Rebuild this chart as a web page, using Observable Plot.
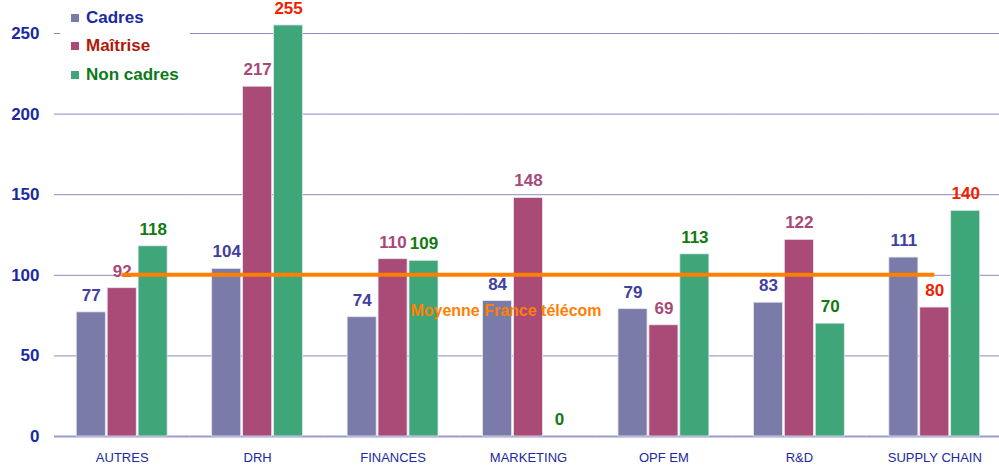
<!DOCTYPE html>
<html>
<head>
<meta charset="utf-8">
<script src="https://cdn.jsdelivr.net/npm/d3@7"></script>
<script src="https://cdn.jsdelivr.net/npm/@observablehq/plot@0.6"></script>
<style>
  html, body { margin: 0; padding: 0; background: #fff; }
  #wrap { position: relative; width: 999px; height: 468px; overflow: hidden; font-family: "Liberation Sans", Arial, sans-serif; }
  #legend { position: absolute; left: 60px; top: 4px; width: 130px; height: 88px; background: #fff; }
  .item { height: 28.3px; line-height: 28.3px; font-weight: bold; font-size: 17px; display: flex; align-items: center; padding-left: 11px; }
  .sw { width: 8px; height: 8px; margin-right: 7px; display: inline-block; }
</style>
</head>
<body>
<div id="wrap"></div>
<script>
const categories = ["AUTRES", "DRH", "FINANCES", "MARKETING", "OPF EM", "R&D", "SUPPLY CHAIN"];
const series = ["Cadres", "Maîtrise", "Non cadres"];
const cadres    = [77, 104, 74, 84, 79, 83, 111];
const maitrise  = [92, 217, 110, 148, 69, 122, 80];
const nonCadres = [118, 255, 109, 0, 113, 70, 140];
const yTicks = [0, 50, 100, 150, 200, 250];
const average = 100;
const averageLabel = "Moyenne France télécom";
const highlighted = [["DRH", "Non cadres"], ["SUPPLY CHAIN", "Maîtrise"], ["SUPPLY CHAIN", "Non cadres"]];

const barColors = ["#7b7ba9", "#a94a77", "#3fa67a"];
const labelColors = ["#4040a0", "#a84878", "#127a12"];
const legendColors = ["#1a2aa0", "#b01a0a", "#0a7a1a"];
const highlightColor = "#f02000";
const axisColor = "#1a2aa0";

const valuesBySeries = [cadres, maitrise, nonCadres];
const data = [];
categories.forEach((c, i) => {
  series.forEach((s, j) => {
    data.push({cat: c, series: s, value: valuesBySeries[j][i]});
  });
});
const isHi = d => highlighted.some(([c, s]) => c === d.cat && s === d.series);

const plot = Plot.plot({
  width: 999,
  height: 468,
  marginLeft: 54,
  marginRight: -3,
  marginTop: 33,
  marginBottom: 32,
  style: {fontFamily: "'Liberation Sans', Arial, sans-serif", background: "#fff", overflow: "hidden"},
  fx: {domain: categories, padding: 0, label: null, round: false},
  x: {domain: series, paddingInner: 0.06, paddingOuter: 0.72, axis: null, round: false},
  y: {domain: [0, 250], label: null},
  color: {domain: series, range: barColors},
  marks: [
    Plot.gridY(yTicks.filter(d => d > 0), {stroke: "#8a8abd", strokeOpacity: 1, strokeWidth: 1}),
    Plot.ruleY([0], {stroke: "#9a9acc", strokeWidth: 2}),
    Plot.barY(data, {fx: "cat", x: "series", y: "value", fill: "series", stroke: "#e6e6f2", strokeWidth: 0.8}),
    Plot.text(data, {
      fx: "cat", x: "series", y: "value", text: d => String(d.value),
      dy: -17, fontSize: 17, fontWeight: "bold",
      fill: d => isHi(d) ? highlightColor : labelColors[series.indexOf(d.series)]
    }),
    Plot.axisY({ticks: yTicks, tickSize: 0, tickPadding: 15, fontSize: 17, fontWeight: "bold", fill: axisColor, label: null}),
    Plot.axisFx({anchor: "bottom", tickSize: 0, tickPadding: 16, fontSize: 13, fill: axisColor, label: null})
  ]
});

// Average line across category centres, using Plot's own scales
const fx = plot.scale("fx");
const y = plot.scale("y");
const bw = fx.bandwidth;
const x1 = fx.apply(categories[0]) + bw / 2;
const x2 = fx.apply(categories[categories.length - 1]) + bw / 2;
const yy = y.apply(average);
const svg = d3.select(plot);
svg.append("line")
  .attr("x1", x1).attr("x2", x2).attr("y1", yy).attr("y2", yy)
  .attr("stroke", "#ff8000").attr("stroke-width", 4);
svg.append("text")
  .attr("x", (x1 + x2) / 2 - 22).attr("y", yy + 37)
  .attr("text-anchor", "middle").attr("dominant-baseline", "middle")
  .attr("fill", "#ff8000").attr("font-weight", "bold").attr("font-size", 16)
  .text(averageLabel);

const wrap = document.getElementById("wrap");
wrap.appendChild(plot);

const legend = document.createElement("div");
legend.id = "legend";
series.forEach((s, j) => {
  const it = document.createElement("div");
  it.className = "item";
  it.style.color = legendColors[j];
  const sw = document.createElement("span");
  sw.className = "sw";
  sw.style.background = barColors[j];
  it.appendChild(sw);
  it.appendChild(document.createTextNode(s));
  legend.appendChild(it);
});
wrap.appendChild(legend);
</script>
</body>
</html>
